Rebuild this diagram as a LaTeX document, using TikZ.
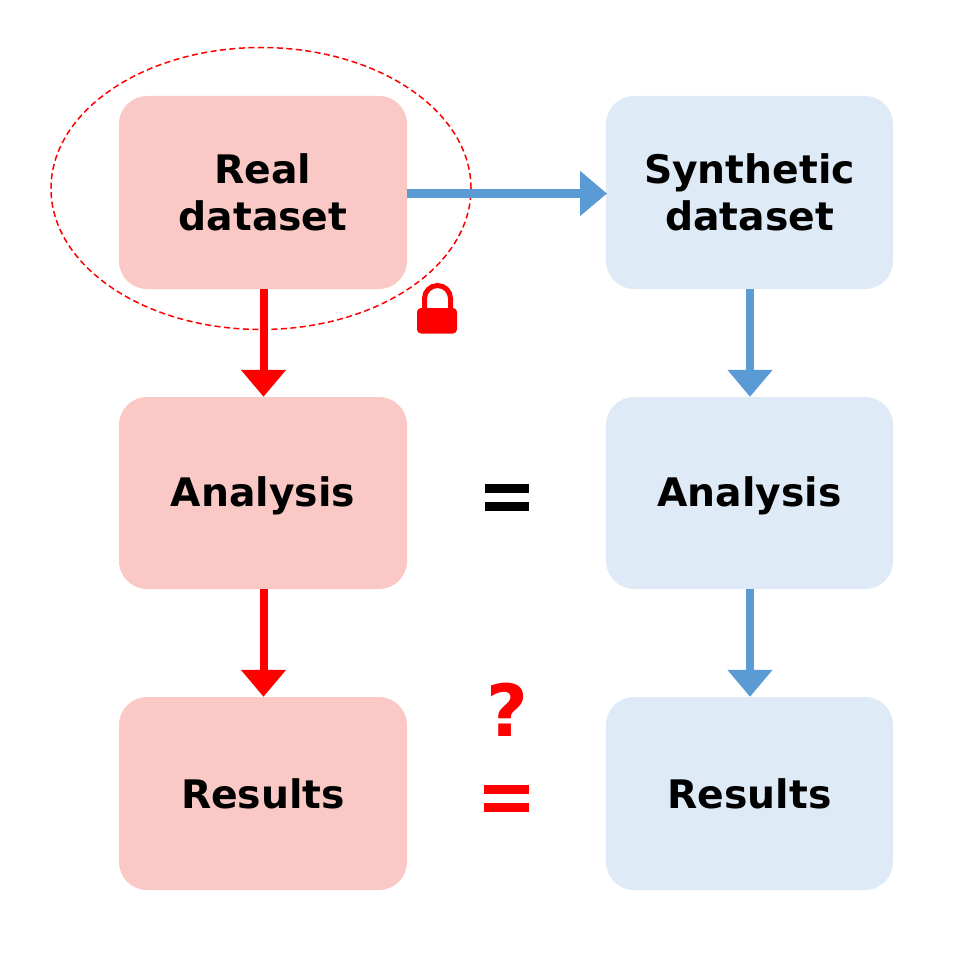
\documentclass[tikz,border=0pt]{standalone}
\usepackage{fontspec}
\setmainfont{DejaVu Sans}
\usetikzlibrary{arrows.meta,shapes.geometric}
\definecolor{pinkbox}{HTML}{FBC9C5}
\definecolor{bluebox}{HTML}{DEEAF6}
\definecolor{bluearrow}{HTML}{5B9BD5}
\definecolor{redc}{HTML}{FF0000}
\tikzset{x=1pt,y=-1pt,
 boxa/.style={fill=pinkbox,rounded corners=28pt,minimum width=288pt,minimum height=193pt,inner sep=0pt,align=center,font=\fontsize{39.3}{47}\bfseries},
 boxb/.style={boxa,fill=bluebox,minimum width=287pt},
 arr/.style={line width=8pt,-{Triangle[length=27pt,width=43.5pt]}},
 redarr/.style={arr,draw=redc},
 bluearr/.style={arr,draw=bluearrow}}
\begin{document}
\begin{tikzpicture}
\useasboundingbox (0,0) rectangle (979,960);
\fill[white] (0,0) rectangle (979,960);
\node[boxa] (r1) at (263,192.5) {Real\\dataset};
\node[boxa,minimum height=192pt] (r2) at (263,493) {\raisebox{0pt}[\dimexpr\height+6pt][\depth]{Analysis}};
\node[boxa] (r3) at (263,793.5) {Results};
\node[boxb] (b1) at (749.5,192.5) {Synthetic\\dataset};
\node[boxb,minimum height=192pt] (b2) at (749.5,493) {\raisebox{0pt}[\dimexpr\height+6pt][\depth]{Analysis}};
\node[boxb] (b3) at (749.5,793.5) {Results};
\node[draw=redc,dash pattern=on 6pt off 3.5pt,line width=1.5pt,ellipse,minimum width=420pt,minimum height=282pt,inner sep=0pt] (ell) at (261,188.5) {};
\draw[redarr] ([xshift=.5pt]r1.south) -- ([xshift=.5pt]r2.north);
\draw[redarr] ([xshift=.5pt]r2.south) -- ([xshift=.5pt]r3.north);
\draw[bluearr] ([xshift=.5pt]b1.south) -- ([xshift=.5pt]b2.north);
\draw[bluearr] ([xshift=.5pt]b2.south) -- ([xshift=.5pt]b3.north);
\coordinate (s) at (407,193.5);
\coordinate (t) at (607,193.5);
\draw[bluearr] (s) -- (t);
\fill[black] (485,484) rectangle (529,493);
\fill[black] (485,502) rectangle (529,511);
\fill[redc] (484,785) rectangle (528.5,794);
\fill[redc] (484,803) rectangle (528.5,812);
\node[font=\fontsize{72}{72}\bfseries,text=redc,inner sep=0pt] (q) at (507,710) {?};
\draw[redc,line width=5pt] (424.5,312) -- (424.5,298.5) arc[start angle=180,end angle=0,radius=13pt] -- (450.5,312);
\fill[redc,rounded corners=4pt] (417,308) rectangle (457,333.5);
\end{tikzpicture}
\end{document}
